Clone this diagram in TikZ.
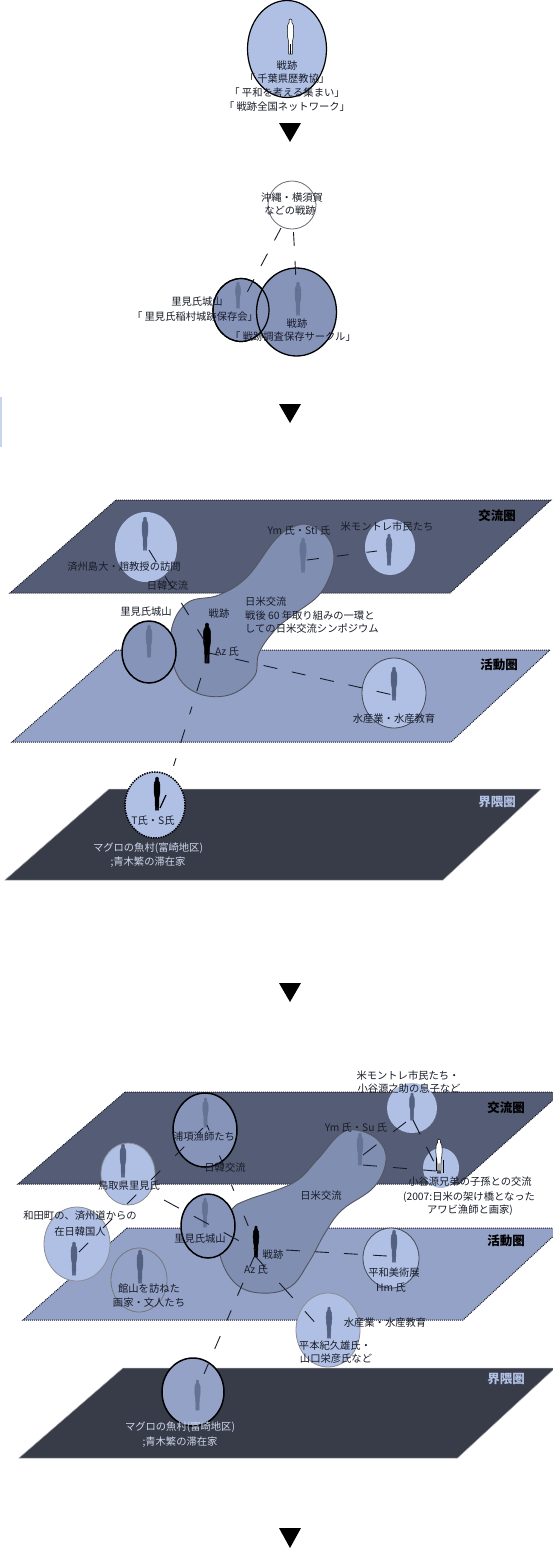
\documentclass[tikz,border=0pt]{standalone}
\usepackage{fontspec}
\setmainfont{Noto Sans CJK JP}
\usetikzlibrary{calc}
\definecolor{lblue}{RGB}{176,192,228}
\definecolor{midc}{RGB}{134,148,186}
\definecolor{blobc}{RGB}{128,142,178}
\definecolor{planeA}{RGB}{85,93,118}
\definecolor{planeB}{RGB}{148,162,199}
\definecolor{planeC}{RGB}{56,60,72}
\definecolor{pgrey}{RGB}{100,114,148}
\definecolor{pdark}{RGB}{84,96,128}
\definecolor{ltxt}{RGB}{205,214,236}
\definecolor{ink}{RGB}{25,28,40}
\tikzset{
  x=1pt,y=-1pt,
  lab/.style={font=\fontsize{10.3}{12}\selectfont,text=ink,inner sep=0pt,align=center},
  lablight/.style={lab,text=ltxt},
  tag/.style={font=\fontsize{12.5}{14}\selectfont\bfseries,text=black,inner sep=0pt},
  taglight/.style={tag,text=lblue},
  planetop/.style={fill=planeA,draw=ink,densely dotted,line width=1pt},
  planemid/.style={fill=planeB,draw=ink,densely dotted,line width=1pt},
  planelow/.style={fill=planeC,draw=gray!70,line width=.5pt},
  ringlight/.style={fill=lblue,draw=ink!80,line width=.8pt},
  ringmid/.style={fill=midc,draw=black,line width=1.5pt},
  link/.style={draw=ink,line width=.9pt,dash pattern=on 14pt off 15pt},
  blobshape/.style={fill=blobc,draw=ink!75,line width=.9pt},
  mark tri/.style={fill=black,draw=none},
}
% \ring{name}{cx}{cy}{rx}{ry}{style}
\newcommand{\ring}[6]{\path[#6] (#2,#3) ellipse [x radius=#4,y radius=#5];\coordinate (#1) at (#2,#3);}
% \person{name}{x}{top}{bottom}{fill}{outline}
\newcommand{\person}[6]{%
  \begin{scope}[shift={(#2,#3)},yscale=(#4-#3)/100,xscale=(#4-#3)/100]
    \path[fill=#5,draw=#6,line width=.5pt]
      (0,0) .. controls (4,0) and (5,4) .. (4,10) .. controls (8,13) and (9,20) .. (9,34)
      .. controls (9,48) and (8,56) .. (6,62) .. controls (6,76) and (5,90) .. (5,100)
      -- (1,100) -- (0,72) -- (-1,100) -- (-5,100) .. controls (-5,90) and (-6,76) .. (-6,62)
      .. controls (-8,56) and (-9,48) .. (-9,34) .. controls (-9,20) and (-8,13) .. (-4,10)
      .. controls (-5,4) and (-4,0) .. (0,0) -- cycle;
  \end{scope}%
  \coordinate (#1) at (#2,{#3+0.75*(#4-#3)});}
\newcommand{\tri}[2]{\path[mark tri] (279,#1) -- (301,#1) -- (290,#2) -- cycle;}
\begin{document}
\begin{tikzpicture}
\useasboundingbox (0,0) rectangle (553,1550);
\clip (0,0) rectangle (553,1550);
\fill[lblue!70] (0,397) rectangle (2,447);

% ---------- stage 1
\ring{c1}{287}{49}{39.5}{48.5}{ringlight,draw=black,line width=1.2pt}
\person{p1}{290.5}{19}{54}{white}{black}
\node[lab] (t1a) at (287,66) {戦跡};
\node[lab] (t1b) at (287,79) {「 千葉県歴教協」};
\node[lab] (t1c) at (287,93) {「 平和を考える集まい」};
\node[lab] (t1d) at (287,107) {「 戦跡全国ネットワーク」};
\tri{123}{142}

% ---------- stage 2
\ring{c2a}{292}{205}{24}{24}{fill=white,draw=ink!65,line width=.8pt}
\ring{c2b}{241}{310}{28}{31.5}{ringmid,line width=1.2pt}
\path[fill=midc] (296.5,312) ellipse [x radius=40,y radius=44];
\draw[black,line width=1.2pt] (241,310) ellipse [x radius=28,y radius=31.5];
\draw[black,line width=1.3pt] (296.5,312) ellipse [x radius=40,y radius=44];
\person{p2b}{238}{282}{308}{pgrey}{pgrey}
\person{p2c}{298}{282}{315}{pgrey}{pgrey}
\coordinate (p2a) at (281,228);
\coordinate (p2d) at (293.5,232);
\coordinate (p2e) at (243,300);
\coordinate (p2f) at (296.5,290);
\draw[link] (p2a) -- (p2e);
\draw[link,dash pattern=on 14pt off 15pt] (p2d) -- (p2f);
\node[lab] (t2a) at (292,198) {沖縄・横須賀};
\node[lab] (t2b) at (290,211) {などの戦跡};
\node[lab] (t2c) at (197,302) {里見氏城山};
\node[lab] (t2d) at (195,317) {「 里見氏稲村城跡保存会」};
\node[lab] (t2e) at (297,324) {戦跡};
\node[lab] (t2f) at (293,337) {「 戦跡調査保存サークル」};
\tri{404}{423}

% ---------- stage 3
\path[planetop] (116,500) -- (551,500) -- (450,593) -- (10,593) -- cycle;
\path[planemid] (116,650) -- (550,650) -- (451,742) -- (12,742) -- cycle;
\path[planelow] (109,789) -- (541,789) -- (443,880) -- (5,880) -- cycle;
\node[tag] (t3p1) at (497,516) {交流圏};
\node[tag] (t3p2) at (499,665) {活動圏};
\node[taglight] (t3p3) at (497,802) {界隈圏};

\ring{c3a}{146}{547}{31}{35}{fill=lblue}
\ring{c3b}{390}{547}{25}{28}{fill=lblue}
\ring{c3c}{394}{693}{32}{35}{ringlight}
\path[blobshape] plot[smooth cycle,tension=.65] coordinates {(310,525) (328,538) (334,557) (329,578) (317,597) (293,615) (275,630) (259,653) (254,677) (229,695) (197,693) (176,672) (171,632) (187,603) (219,595) (247,577) (275,540) (293,527)};
\ring{c3d}{149}{652}{27}{31}{ringmid}
\person{p3a}{145}{517}{550}{pdark}{pdark}
\person{p3b}{389}{534}{565}{pdark}{pdark}
\person{p3c}{394}{667}{700}{pdark}{pdark}
\person{p3d}{149}{625}{657}{pgrey}{pgrey}
\person{p3e}{303}{538}{572}{pgrey}{pgrey}
\person{p3f}{207}{623}{663}{black}{black}
\coordinate (e3a) at (149,550);
\coordinate (e3f) at (207,645);
\coordinate (e3g) at (209,653);
\coordinate (e3h) at (393,695);
\coordinate (e3i) at (307,560);
\coordinate (e3j) at (377,551);
\coordinate (e3k) at (208,655);
\coordinate (e3t) at (163,800);
\draw[link,dash pattern=on 14pt off 17pt] (e3a) -- (e3f);
\draw[link,dash pattern=on 10pt off 17pt on 14pt off 15pt on 14pt off 15pt on 14pt off 15pt on 14pt off 15pt on 14pt off 15pt on 14pt off 15pt on 14pt] (e3g) -- (e3h);
\draw[link,dash pattern=on 12pt off 18pt] (e3i) -- (e3j);
\draw[link,dash pattern=on 8pt off 16pt on 14pt off 16pt] (e3k) -- (e3t);
\ring{c3t}{155}{805}{30}{33}{fill=lblue,draw=black,densely dotted,line width=1.5pt}
\person{p3t}{157}{777}{810}{black}{black}
\draw[black,line width=1.2pt] (166,795) -- (160,808);
\node[lab] (t3a) at (124,567) {済州島大・趙教授の訪問};
\node[lab] (t3b) at (167.5,586) {日韓交流};
\node[lab] (t3c) at (299,531) {Ym 氏・Sti 氏};
\node[lab] (t3d) at (387,527) {米モントレ市民たち};
\node[lab,anchor=west] (t3e) at (245,602) {日米交流};
\node[lab,anchor=west] (t3f) at (245,616) {戦後 60 年取り組みの一環と};
\node[lab,anchor=west] (t3g) at (245,629) {しての日米交流シンポジウム};
\node[lab] (t3h) at (146,612) {里見氏城山};
\node[lab] (t3i) at (219,614) {戦跡};
\node[lab] (t3j) at (227,652) {Az 氏};
\node[lab] (t3k) at (394,719) {水産業・水産教育};
\node[lab] (t3l) at (153,821) {T氏・S氏};
\node[lablight] (t3m) at (148,848) {マグロの魚村(富崎地区)};
\node[lablight] (t3n) at (148,862) {;青木繁の滞在家};
\tri{983}{1002}

% ---------- stage 4
\path[planetop] (125,1092) -- (562,1092) -- (459,1184) -- (18,1184) -- cycle;
\path[planemid] (127,1228) -- (562,1228) -- (463,1320) -- (23,1320) -- cycle;
\path[planelow] (123,1368) -- (555,1368) -- (457.5,1458) -- (19,1458) -- cycle;
\node[tag] (t4p1) at (506,1108) {交流圏};
\node[tag] (t4p2) at (506,1241) {活動圏};
\node[taglight] (t4p3) at (506,1379) {界隈圏};

\ring{c4a}{412}{1108}{25}{25}{fill=lblue}
\ring{c4b}{441}{1168}{18}{20}{fill=lblue}
\ring{c4c}{128}{1174}{27}{31}{ringlight,draw=ink!50}
\ring{c4d}{77}{1244}{33}{37}{ringlight,draw=ink!50}
\ring{c4e}{139}{1280}{28}{32}{ringlight,fill=planeB,draw=ink!60}
\ring{c4f}{391}{1258}{28}{30}{ringlight}
\ring{c4g}{328}{1330}{32}{37}{ringlight,draw=ink!50}
\ring{c4h}{205}{1130}{32}{37}{ringmid}
\path[blobshape] plot[smooth cycle,tension=.65] coordinates {(356,1130) (378,1140) (386,1160) (374,1187) (342,1210) (325,1233) (309,1262) (290,1287) (260,1293) (235,1283) (220,1255) (222,1225) (233,1208) (247,1200) (293,1183) (317,1160) (339,1135)};
\ring{c4i}{208}{1226}{27}{32}{ringmid}
\ring{c4j}{193}{1392}{31}{34}{ringmid,fill=planeB}
\person{p4a}{412}{1093}{1120}{pdark}{pdark}
\person{p4b}{439}{1139}{1173}{white}{black}
\draw[black,line width=.6pt] (436,1171) -- (436,1158) (443,1173) -- (443,1160);
\person{p4c}{123}{1144}{1177}{pdark}{pdark}
\person{p4d}{74}{1242}{1275}{pdark}{pdark}
\person{p4e}{140}{1250}{1283}{pdark}{pdark}
\person{p4f}{394}{1230}{1262}{pdark}{pdark}
\person{p4g}{329}{1307}{1338}{pdark}{pdark}
\person{p4h}{205.5}{1098}{1127}{pgrey}{pgrey}
\person{p4i}{205}{1198}{1227}{pgrey}{pgrey}
\person{p4j}{360}{1133}{1165}{pgrey}{pgrey}
\person{p4k}{256}{1226}{1257}{black}{black}
\person{p4l}{197.5}{1380}{1410}{pgrey}{pgrey}
\coordinate (e4a) at (79,1252);
\coordinate (e4b) at (203,1128);
\coordinate (e4c) at (207,1125);
\coordinate (e4d) at (256,1245);
\coordinate (e4e) at (164,1200);
\coordinate (e4f) at (256,1250);
\coordinate (e4g) at (363,1155);
\coordinate (e4h) at (406,1122);
\coordinate (e4i) at (363,1165);
\coordinate (e4j) at (436,1171);
\coordinate (e4k) at (413,1120);
\coordinate (e4l) at (434,1162);
\coordinate (e4m) at (286,1250);
\coordinate (e4n) at (387,1256);
\coordinate (e4o) at (256,1257);
\coordinate (e4p) at (319,1327);
\coordinate (e4q) at (254,1257);
\coordinate (e4r) at (198,1388);
\draw[link,dash pattern=on 13pt off 21pt] (e4a) -- (e4b);
\draw[link,dash pattern=on 6pt off 27pt on 11pt off 21pt] (e4c) -- (e4d);
\draw[link,dash pattern=on 17pt off 17pt] (e4e) -- (e4f);
\draw[link,dash pattern=on 17pt off 21pt] (e4g) -- (e4h);
\draw[link,dash pattern=on 14pt off 16pt] (e4i) -- (e4j);
\draw[link,dash pattern=on 16pt off 14pt] (e4k) -- (e4l);
\draw[link,dash pattern=on 14pt off 15pt] (e4m) -- (e4n);
\draw[link,dash pattern=on 14pt off 21pt on 20pt off 18pt] (e4o) -- (e4p);
\draw[link,dash pattern=on 11pt off 17pt on 14pt off 16pt] (e4q) -- (e4r);
\node[lab] (t4a) at (408,1076) {米モントレ市民たち・};
\node[lab] (t4b) at (409,1089) {小谷源之助の息子など};
\node[lab] (t4c) at (204,1137) {浦項漁師たち};
\node[lab] (t4d) at (225,1168) {日韓交流};
\node[lab] (t4e) at (129,1186) {鳥取県里見氏};
\node[lab] (t4f) at (356,1128) {Ym 氏・Su 氏};
\node[lab] (t4g) at (321,1196) {日米交流};
\node[lab] (t4h) at (470,1182) {小谷源兄弟の子孫との交流};
\node[lab] (t4i) at (469,1197) {(2007:日米の架け橋となった};
\node[lab] (t4j) at (470,1210) {アワビ漁師と画家)};
\node[lab] (t4k) at (80,1216) {和田町の、済州道からの};
\node[lab] (t4l) at (80,1232) {在日韓国人};
\node[lab] (t4m) at (200,1239) {里見氏城山};
\node[lab] (t4n) at (273,1255) {戦跡};
\node[lab] (t4o) at (256,1270) {Az 氏};
\node[lab] (t4p) at (149,1289) {館山を訪ねた};
\node[lab] (t4q) at (149,1303) {画家・文人たち};
\node[lab] (t4r) at (394,1273) {平和美術展};
\node[lab] (t4s) at (391,1288) {Hm 氏};
\node[lab] (t4t) at (385,1323) {水産業・水産教育};
\node[lab] (t4u) at (335,1346) {平本紀久雄氏・};
\node[lab] (t4v) at (336,1359) {山口栄彦氏など};
\node[lablight] (t4w) at (180,1427) {マグロの魚村(富崎地区)};
\node[lablight] (t4x) at (180,1442) {;青木繁の滞在家};
\tri{1528}{1548}
\end{tikzpicture}
\end{document}
